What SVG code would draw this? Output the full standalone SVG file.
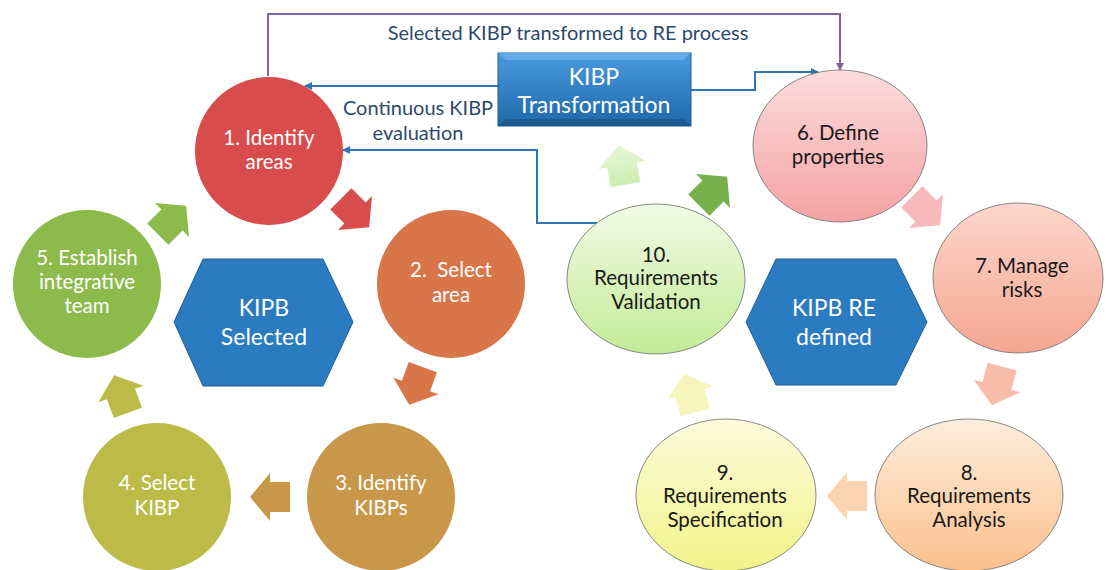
<svg xmlns="http://www.w3.org/2000/svg" width="1106" height="570" viewBox="0 0 1106 570">
<style>
text{font-family:Lato,"Noto Sans","Liberation Sans",sans-serif;text-anchor:middle}
.w{fill:#ffffff;font-size:20.5px}
.d{fill:#1a1a1a;font-size:20.5px}
.h{fill:#ffffff;font-size:23px}
.lbl{fill:#2b4a6b;font-size:20px}
.pc{stroke:#6b6b6b;stroke-width:0.8}
.bl{fill:none;stroke:#2e75b6;stroke-width:2}
.pu{fill:none;stroke:#8064a2;stroke-width:2}
.hex{fill:#2a7bbf;stroke:#1f5f96;stroke-width:1}
</style>
<defs>
<polygon id="arr" points="0,-20 24,0 15,0 15,20 -15,20 -15,0 -24,0"/>
<marker id="mb" markerWidth="8" markerHeight="8" refX="7" refY="4" orient="auto" markerUnits="userSpaceOnUse"><path d="M0,0 L8,4 L0,8 z" fill="#2e75b6"/></marker>
<marker id="mp" markerWidth="8" markerHeight="8" refX="7" refY="4" orient="auto" markerUnits="userSpaceOnUse"><path d="M0,0 L8,4 L0,8 z" fill="#8064a2"/></marker>
<linearGradient id="g6" x1="0" y1="0" x2="0" y2="1"><stop offset="0" stop-color="#fddcdc"/><stop offset="1" stop-color="#f4a2a5"/></linearGradient>
<linearGradient id="g7" x1="0" y1="0" x2="0" y2="1"><stop offset="0" stop-color="#fdd6cc"/><stop offset="1" stop-color="#f5a690"/></linearGradient>
<linearGradient id="g8" x1="0" y1="0" x2="0" y2="1"><stop offset="0" stop-color="#feeedd"/><stop offset="1" stop-color="#fbc08c"/></linearGradient>
<linearGradient id="g9" x1="0" y1="0" x2="0" y2="1"><stop offset="0" stop-color="#fbfbdc"/><stop offset="1" stop-color="#f3f38a"/></linearGradient>
<linearGradient id="g10" x1="0" y1="0" x2="0" y2="1"><stop offset="0" stop-color="#f2fbe6"/><stop offset="1" stop-color="#c2eb96"/></linearGradient>
<linearGradient id="gbox" x1="0" y1="0" x2="0" y2="1"><stop offset="0" stop-color="#4a9be0"/><stop offset="1" stop-color="#1d68a8"/></linearGradient>
<linearGradient id="gpg" x1="0" y1="0" x2="0" y2="1"><stop offset="0" stop-color="#e6f7d8"/><stop offset="1" stop-color="#cdeeb0"/></linearGradient>
</defs>

<g id="connectors">
<polyline class="pu" points="268,76 268,14 840,14 840,70" marker-end="url(#mp)"/>
<polyline class="bl" points="498,86 305,86" marker-end="url(#mb)"/>
<polyline class="bl" points="691,90 755,90 755,72 818,72" marker-end="url(#mb)"/>
<polyline class="bl" points="600,223 537,223 537,150 343,150" marker-end="url(#mb)"/>
</g>

<g id="labels">
<text class="lbl" x="568" y="40">Selected KIBP transformed to RE process</text>
<text class="lbl" x="418" y="115">Continuous KIBP</text>
<text class="lbl" x="418" y="140">evaluation</text>
</g>

<g id="kibp-transformation">
<rect x="498" y="53" width="193" height="73" fill="url(#gbox)" stroke="#1b5e98" stroke-width="1"/>
<polygon points="498,53 691,53 683,60 506,60" fill="#6fb2ea" opacity="0.7"/>
<polygon points="498,126 691,126 683,119 506,119" fill="#17507f" opacity="0.6"/>
<text class="h" x="594" y="85">KIBP</text>
<text class="h" x="594" y="113">Transformation</text>
</g>

<g id="n1"><circle cx="269" cy="151" r="74" fill="#d94c4c"/><text class="w" x="269" y="145">1. Identify</text><text class="w" x="269" y="169">areas</text></g>
<g id="n2"><circle cx="451" cy="284" r="74" fill="#d87549"/><text class="w" x="451" y="277" xml:space="preserve">2.  Select</text><text class="w" x="451" y="302">area</text></g>
<g id="n3"><circle cx="381" cy="497" r="74" fill="#c8974a"/><text class="w" x="381" y="490">3. Identify</text><text class="w" x="381" y="515">KIBPs</text></g>
<g id="n4"><circle cx="157" cy="497" r="74" fill="#bcbb48"/><text class="w" x="157" y="490">4. Select</text><text class="w" x="157" y="515">KIBP</text></g>
<g id="n5"><circle cx="87" cy="284" r="74" fill="#8cbb4b"/><text class="w" x="87" y="265">5. Establish</text><text class="w" x="87" y="289">integrative</text><text class="w" x="87" y="313">team</text></g>
<g id="hex1"><polygon class="hex" points="203,259 323,259 353,322 323,386 203,386 174,322"/><text class="h" x="264" y="316">KIPB</text><text class="h" x="264" y="345">Selected</text></g>

<g id="n6"><ellipse class="pc" cx="840" cy="146" rx="87" ry="76" fill="url(#g6)"/><text class="d" x="838" y="140">6. Define</text><text class="d" x="838" y="164">properties</text></g>
<g id="n7"><ellipse class="pc" cx="1018" cy="278" rx="85" ry="75" fill="url(#g7)"/><text class="d" x="1022" y="273">7. Manage</text><text class="d" x="1022" y="297">risks</text></g>
<g id="n8"><ellipse class="pc" cx="969" cy="495" rx="94" ry="76" fill="url(#g8)"/><text class="d" x="969" y="480">8.</text><text class="d" x="969" y="503">Requirements</text><text class="d" x="969" y="527">Analysis</text></g>
<g id="n9"><ellipse class="pc" cx="726" cy="495" rx="90" ry="76" fill="url(#g9)"/><text class="d" x="725" y="480">9.</text><text class="d" x="725" y="503">Requirements</text><text class="d" x="725" y="527">Specification</text></g>
<g id="n10"><ellipse class="pc" cx="656" cy="279" rx="89" ry="75" fill="url(#g10)"/><text class="d" x="656" y="262">10.</text><text class="d" x="656" y="285">Requirements</text><text class="d" x="656" y="309">Validation</text></g>
<g id="hex2"><polygon class="hex" points="776,259 896,259 927,322 896,385 776,385 746,322"/><text class="h" x="834" y="316">KIPB RE</text><text class="h" x="834" y="345">defined</text></g>

<g id="cycle-arrows">
<use href="#arr" transform="translate(355,213) rotate(135)" fill="#d94c4c"/>
<use href="#arr" transform="translate(416,386) rotate(200)" fill="#d87549"/>
<use href="#arr" transform="translate(270,497) rotate(-90)" fill="#c8974a"/>
<use href="#arr" transform="translate(121,394) rotate(-20)" fill="#bcbb48"/>
<use href="#arr" transform="translate(172,220) rotate(45)" fill="#8cbb4b"/>
<use href="#arr" transform="translate(622,165) rotate(-10)" fill="url(#gpg)"/>
<use href="#arr" transform="translate(713,191) rotate(45)" fill="#77b04a"/>
<use href="#arr" transform="translate(926,211) rotate(135)" fill="#f7b9bb"/>
<use href="#arr" transform="translate(997,386) rotate(195)" fill="#f8bcaa"/>
<use href="#arr" transform="translate(847,496) rotate(-90)" fill="#fbd3b0"/>
<use href="#arr" transform="translate(690,393) rotate(-15)" fill="#f6f5bc"/>
</g>
</svg>
